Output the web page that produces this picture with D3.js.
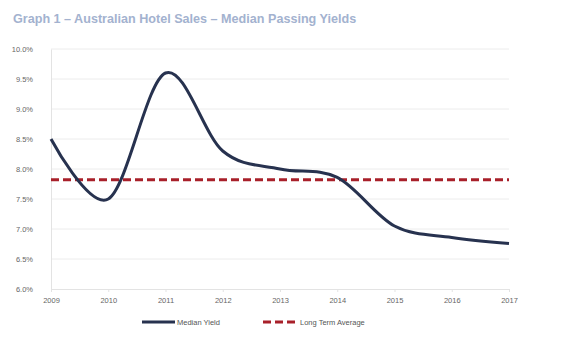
<!DOCTYPE html>
<html>
<head>
<meta charset="utf-8">
<script src="https://cdn.jsdelivr.net/npm/d3@7"></script>
<style>
  body { margin: 0; background: #fff; }
  svg { display: block; font-family: "Liberation Sans", Arial, sans-serif; }
</style>
</head>
<body>
<svg id="chart" width="580" height="352"></svg>
<script>
// chart data
const years = [2009, 2010, 2011, 2012, 2013, 2014, 2015, 2016, 2017];
const medianYield = [8.5, 7.5, 9.6, 8.3, 8.0, 7.86, 7.05, 6.86, 6.76];
const longTermAverage = 7.82;
const yTicks = [6.0, 6.5, 7.0, 7.5, 8.0, 8.5, 9.0, 9.5, 10.0];

const svg = d3.select("#chart");
const margin = { left: 51, right: 71, top: 49, bottom: 63 };
const width = 580, height = 352;

// title
svg.append("text")
    .attr("x", 13).attr("y", 23)
    .attr("fill", "#a3b2cf")
    .style("font-size", "12.6px")
    .style("font-weight", "bold")
    .text("Graph 1 \u2013 Australian Hotel Sales \u2013 Median Passing Yields");

const x = d3.scaleLinear()
    .domain([2009, 2017])
    .range([margin.left, width - margin.right]);

const y = d3.scaleLinear()
    .domain([6, 10])
    .range([height - margin.bottom, margin.top]);

// horizontal grid
svg.append("g")
    .selectAll("line")
    .data(yTicks.slice(1))
    .join("line")
    .attr("x1", margin.left).attr("x2", width - margin.right)
    .attr("y1", d => y(d)).attr("y2", d => y(d))
    .attr("stroke", "#ececec").attr("stroke-width", 1);

// y axis
const yAxis = svg.append("g")
    .attr("transform", `translate(${margin.left},0)`)
    .call(d3.axisLeft(y).tickValues(yTicks).tickFormat(d => d.toFixed(1) + "%").tickSize(0).tickPadding(18));
yAxis.select(".domain").attr("stroke", "#e3e3e3");
yAxis.selectAll("text").attr("fill", "#666").style("font-size", "7.5px");

// x axis
const xAxis = svg.append("g")
    .attr("transform", `translate(0,${y(6)})`)
    .call(d3.axisBottom(x).tickValues(years).tickFormat(d3.format("d")).tickSize(3).tickPadding(6));
xAxis.select(".domain").attr("stroke", "#e3e3e3");
xAxis.selectAll("line").attr("stroke", "#e3e3e3");
xAxis.selectAll("text").attr("fill", "#666").style("font-size", "7.5px");

// long term average
svg.append("line")
    .attr("x1", x(2009)).attr("x2", x(2017))
    .attr("y1", y(longTermAverage)).attr("y2", y(longTermAverage))
    .attr("stroke", "#a8202a")
    .attr("stroke-width", 3)
    .attr("stroke-dasharray", "8,4");

// median yield line (Excel-style smoothing)
const line = d3.line()
    .x((d, i) => x(years[i]))
    .y(d => y(d))
    .curve(d3.curveCatmullRom.alpha(0));

svg.append("path")
    .datum(medianYield)
    .attr("d", line)
    .attr("fill", "none")
    .attr("stroke", "#27324f")
    .attr("stroke-width", 3);

// legend
const legend = svg.append("g").attr("transform", "translate(0,322)");
legend.append("line")
    .attr("x1", 142).attr("x2", 175).attr("y1", 0).attr("y2", 0)
    .attr("stroke", "#27324f").attr("stroke-width", 3);
legend.append("text")
    .attr("x", 177).attr("y", 3)
    .attr("fill", "#555").style("font-size", "7.5px")
    .text("Median Yield");
legend.append("line")
    .attr("x1", 263).attr("x2", 298).attr("y1", 0).attr("y2", 0)
    .attr("stroke", "#a8202a").attr("stroke-width", 3)
    .attr("stroke-dasharray", "8,4");
legend.append("text")
    .attr("x", 300).attr("y", 3)
    .attr("fill", "#555").style("font-size", "7.5px")
    .text("Long Term Average");
</script>
</body>
</html>
